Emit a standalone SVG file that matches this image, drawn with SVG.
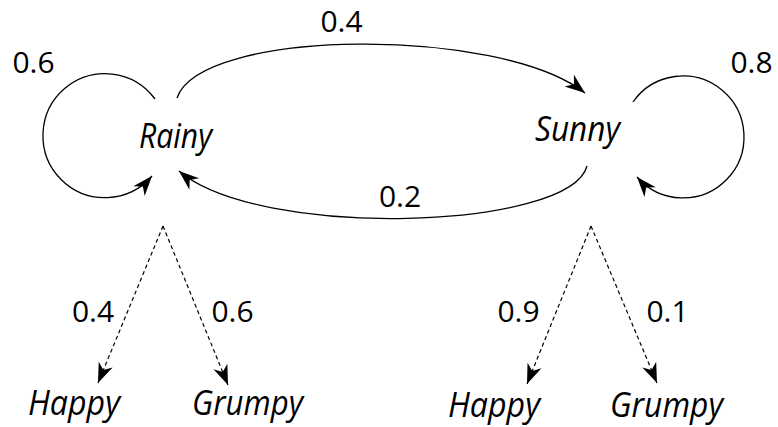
<svg xmlns="http://www.w3.org/2000/svg" width="778" height="427" viewBox="0 0 778 427">
<style>
  .lbl { font-family: "Open Sans", "DejaVu Sans", sans-serif; font-style: italic; font-size: 35px; fill: #000; text-anchor: middle; }
  .num { font-family: "Open Sans", "DejaVu Sans", sans-serif; font-size: 30px; fill: #000; text-anchor: middle; }
  .edge { fill: none; stroke: #000; stroke-width: 1.3; }
  .dash { fill: none; stroke: #000; stroke-width: 1.2; stroke-dasharray: 4 3; }
</style>
<defs>
  <marker id="arr" viewBox="-21 -8 22 16" refX="0" refY="0" markerWidth="22" markerHeight="16" markerUnits="userSpaceOnUse" orient="auto">
    <path d="M0,0 L-20,-7.5 L-14,0 L-20,7.5 Z" fill="#000"/>
  </marker>
</defs>
<rect width="778" height="427" fill="#fff"/>
<g id="connectors">
  <path class="edge" d="M155,99 A62,62 0 1 0 152,176" marker-end="url(#arr)"/>
  <path class="edge" d="M633,102 A61,61 0 1 1 637,177" marker-end="url(#arr)"/>
  <path class="edge" d="M177,98 C200,28 500,26 585,93" marker-end="url(#arr)"/>
  <path class="edge" d="M587,166 C570,230 260,240 179,171" marker-end="url(#arr)"/>
  <path class="dash" d="M163,226 L98,383" marker-end="url(#arr)"/>
  <path class="dash" d="M163,226 L228,385" marker-end="url(#arr)"/>
  <path class="dash" d="M591,226 L527,384" marker-end="url(#arr)"/>
  <path class="dash" d="M591,226 L657,383" marker-end="url(#arr)"/>
  <text class="num" x="341.5" y="32">0.4</text>
  <text class="num" x="33.5" y="73">0.6</text>
  <text class="num" x="751.5" y="73">0.8</text>
  <text class="num" x="400" y="207">0.2</text>
  <text class="num" x="93" y="322">0.4</text>
  <text class="num" x="232.5" y="322">0.6</text>
  <text class="num" x="518.5" y="322">0.9</text>
  <text class="num" x="667.5" y="322">0.1</text>
</g>
<g id="rainy"><text class="lbl" x="175.5" y="148" textLength="73" lengthAdjust="spacingAndGlyphs">Rainy</text></g>
<g id="sunny"><text class="lbl" x="577.5" y="141" textLength="85" lengthAdjust="spacingAndGlyphs">Sunny</text></g>
<g id="happy1"><text class="lbl" x="74" y="415" textLength="92" lengthAdjust="spacingAndGlyphs">Happy</text></g>
<g id="grumpy1"><text class="lbl" x="247.5" y="415" textLength="111" lengthAdjust="spacingAndGlyphs">Grumpy</text></g>
<g id="happy2"><text class="lbl" x="494" y="417" textLength="92" lengthAdjust="spacingAndGlyphs">Happy</text></g>
<g id="grumpy2"><text class="lbl" x="666.5" y="417" textLength="113" lengthAdjust="spacingAndGlyphs">Grumpy</text></g>
</svg>
